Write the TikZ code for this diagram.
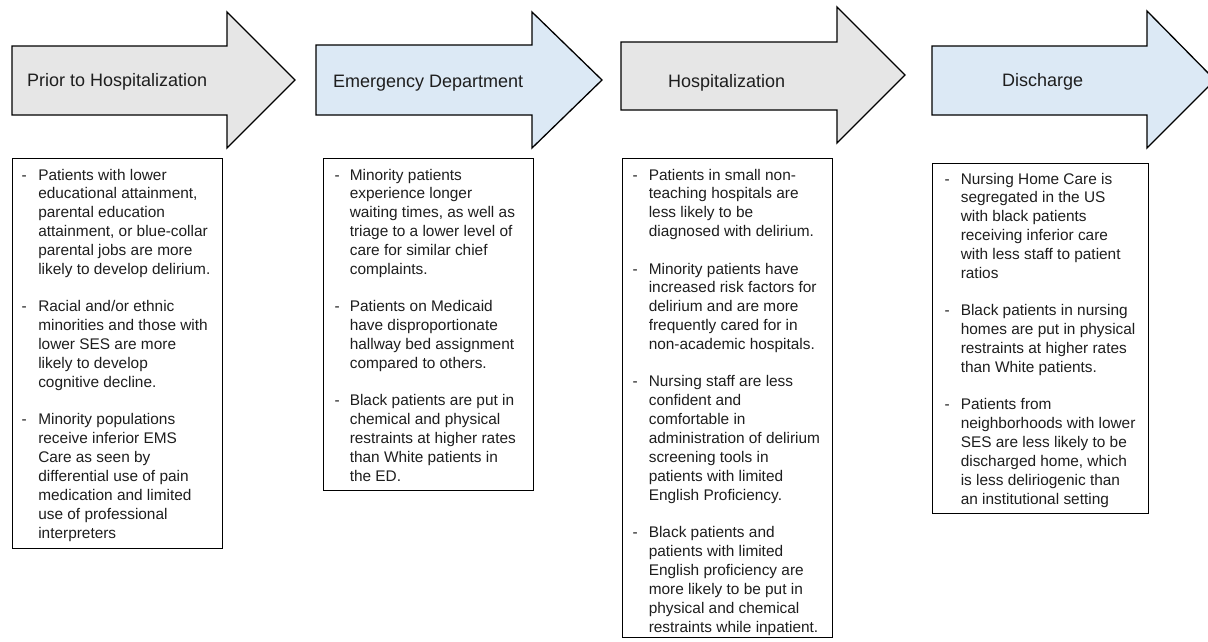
\documentclass[tikz,border=0pt]{standalone}
\usepackage{fontspec}
\setmainfont{Liberation Sans}
\usepackage{array}
\definecolor{phasegray}{HTML}{E6E6E6}
\definecolor{phaseblue}{HTML}{DCE9F5}
\definecolor{ink}{HTML}{1E1E1E}
\begin{document}
\begin{tikzpicture}[x=1pt,y=-1pt,
  phase/.style={draw=black, line width=1.3pt, line join=miter},
  head/.style={font=\fontsize{18}{22}\selectfont, text=ink, anchor=base west, inner sep=0pt},
  infobox/.style={draw=black, line width=1.4pt, anchor=north west, inner sep=0pt},
  body/.style={font=\fontsize{15.4}{18.9}\selectfont, text=ink, anchor=base west, inner sep=0pt, align=left}]
\useasboundingbox (0,0) rectangle (1208,641);
\clip (0,0) rectangle (1208,641);
\fill[white] (0,0) rectangle (1208,641);

% phase arrows
\filldraw[phase, fill=phasegray] (12,46) -- (227,46) -- (227,12) -- (295,80) -- (227,148) -- (227,115) -- (12,115) -- cycle;
\filldraw[phase, fill=phaseblue] (316,45) -- (532,45) -- (532,12) -- (602,80) -- (532,148) -- (532,115) -- (316,115) -- cycle;
\filldraw[phase, fill=phasegray] (621,42) -- (837,42) -- (837,7) -- (905,75) -- (837,143) -- (837,110) -- (621,110) -- cycle;
\filldraw[phase, fill=phaseblue] (932,46) -- (1147,46) -- (1147,11) -- (1215,80) -- (1147,148) -- (1147,115) -- (932,115) -- cycle;

\node[head] (h1) at (27,86.5) {Prior to Hospitalization};
\node[head] (h2) at (333,87) {Emergency Department};
\node[head] (h3) at (668,87) {Hospitalization};
\node[head] (h4) at (1002,86) {Discharge};

% boxes
\node[infobox, minimum width=210pt, minimum height=390pt] (box1) at (12,158) {};
\node[infobox, minimum width=210pt, minimum height=332pt] (box2) at (323,158) {};
\node[infobox, minimum width=210pt, minimum height=479pt] (box3) at (622,158) {};
\node[infobox, minimum width=216pt, minimum height=350pt] (box4) at (932,163) {};

\node[body] (t1) at (21.3,180) {\begin{tabular}[t]{@{}p{16.8pt}@{}l@{}}
- & Patients with lower\\
  & educational attainment,\\
  & parental education\\
  & attainment, or blue-collar\\
  & parental jobs are more\\
  & likely to develop delirium.\\[18.4pt]
- & Racial and/or ethnic\\
  & minorities and those with\\
  & lower SES are more\\
  & likely to develop\\
  & cognitive decline.\\[18.4pt]
- & Minority populations\\
  & receive inferior EMS\\
  & Care as seen by\\
  & differential use of pain\\
  & medication and limited\\
  & use of professional\\
  & interpreters
\end{tabular}};

\node[body] (t2) at (334.3,180) {\begin{tabular}[t]{@{}p{15.3pt}@{}l@{}}
- & Minority patients\\
  & experience longer\\
  & waiting times, as well as\\
  & triage to a lower level of\\
  & care for similar chief\\
  & complaints.\\[18.4pt]
- & Patients on Medicaid\\
  & have disproportionate\\
  & hallway bed assignment\\
  & compared to others.\\[18.4pt]
- & Black patients are put in\\
  & chemical and physical\\
  & restraints at higher rates\\
  & than White patients in\\
  & the ED.
\end{tabular}};

\node[body] (t3) at (632.3,180) {\begin{tabular}[t]{@{}p{16.3pt}@{}l@{}}
- & Patients in small non-\\
  & teaching hospitals are\\
  & less likely to be\\
  & diagnosed with delirium.\\[18.4pt]
- & Minority patients have\\
  & increased risk factors for\\
  & delirium and are more\\
  & frequently cared for in\\
  & non-academic hospitals.\\[18.4pt]
- & Nursing staff are less\\
  & confident and\\
  & comfortable in\\
  & administration of delirium\\
  & screening tools in\\
  & patients with limited\\
  & English Proficiency.\\[18.4pt]
- & Black patients and\\
  & patients with limited\\
  & English proficiency are\\
  & more likely to be put in\\
  & physical and chemical\\
  & restraints while inpatient.
\end{tabular}};

\node[body] (t4) at (944.3,184) {\begin{tabular}[t]{@{}p{16.3pt}@{}l@{}}
- & Nursing Home Care is\\
  & segregated in the US\\
  & with black patients\\
  & receiving inferior care\\
  & with less staff to patient\\
  & ratios\\[18.4pt]
- & Black patients in nursing\\
  & homes are put in physical\\
  & restraints at higher rates\\
  & than White patients.\\[18.4pt]
- & Patients from\\
  & neighborhoods with lower\\
  & SES are less likely to be\\
  & discharged home, which\\
  & is less deliriogenic than\\
  & an institutional setting
\end{tabular}};
\end{tikzpicture}
\end{document}
